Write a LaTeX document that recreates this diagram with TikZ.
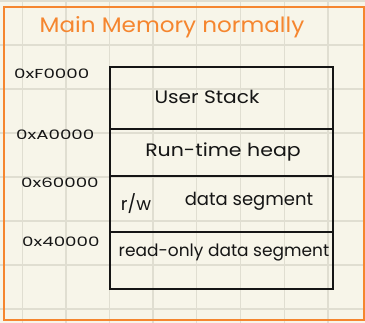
\documentclass[tikz,border=0pt]{standalone}
\usepackage{fontspec}
\setmainfont{Poppins}
\definecolor{paper}{HTML}{F7F5E9}
\definecolor{gridline}{HTML}{E0DED1}
\definecolor{marker}{HTML}{F5862F}
\definecolor{ink}{HTML}{151515}
\begin{document}
\begin{tikzpicture}[x=1pt,y=-1pt,
  seg/.style={draw=ink,line width=2pt},
  segtext/.style={text=ink,font=\fontsize{18}{21}\selectfont,inner sep=0pt},
  addr/.style={text=ink,font=\fontsize{13}{15}\selectfont,inner sep=0pt,anchor=west}]
  % paper and grid
  \fill[paper] (0,0) rectangle (365,323);
  \useasboundingbox (0,0) rectangle (365,323);
  \foreach \gx in {22.5,66,109.5,153,196.5,240.5,284.5,328}
    \draw[gridline,line width=1.8pt] (\gx,0) -- (\gx,323);
  \foreach \gy in {1,45,89,133,177,221,265,309}
    \draw[gridline,line width=1.8pt] (0,\gy) -- (365,\gy);
  % orange frame
  \draw[marker,line width=2pt] (3.5,7) rectangle (364,320);
  \node[text=marker,font=\fontsize{21}{25}\selectfont,inner sep=0pt] (title) at (172,27) {\scalebox{1.1}[1]{Main Memory normally}};
  % memory segments
  \draw[seg] (110,67) rectangle (333,289);
  \draw[seg] (110,129) -- (333,129);
  \draw[seg] (110,176) -- (333,176);
  \draw[seg] (110,232) -- (333,232);
  \node[segtext] (stack) at (207,97) {\scalebox{1.12}[1]{User Stack}};
  \node[segtext] (heap) at (223,152) {\scalebox{1.14}[1]{Run-time heap}};
  \node[segtext] (rw) at (136,204) {r/w};
  \node[segtext] (data) at (249,201) {data segment};
  \node[segtext,font=\fontsize{17}{20}\selectfont] (rodata) at (224,253) {read-only data segment};
  % addresses
  \node[addr] (a1) at (14,74) {\scalebox{1.4}[1]{0xF0000}};
  \node[addr] (a2) at (16,135) {\scalebox{1.4}[1]{0xA0000}};
  \node[addr] (a3) at (21,183) {\scalebox{1.4}[1]{0x60000}};
  \node[addr] (a4) at (22,242) {\scalebox{1.4}[1]{0x40000}};
\end{tikzpicture}
\end{document}
